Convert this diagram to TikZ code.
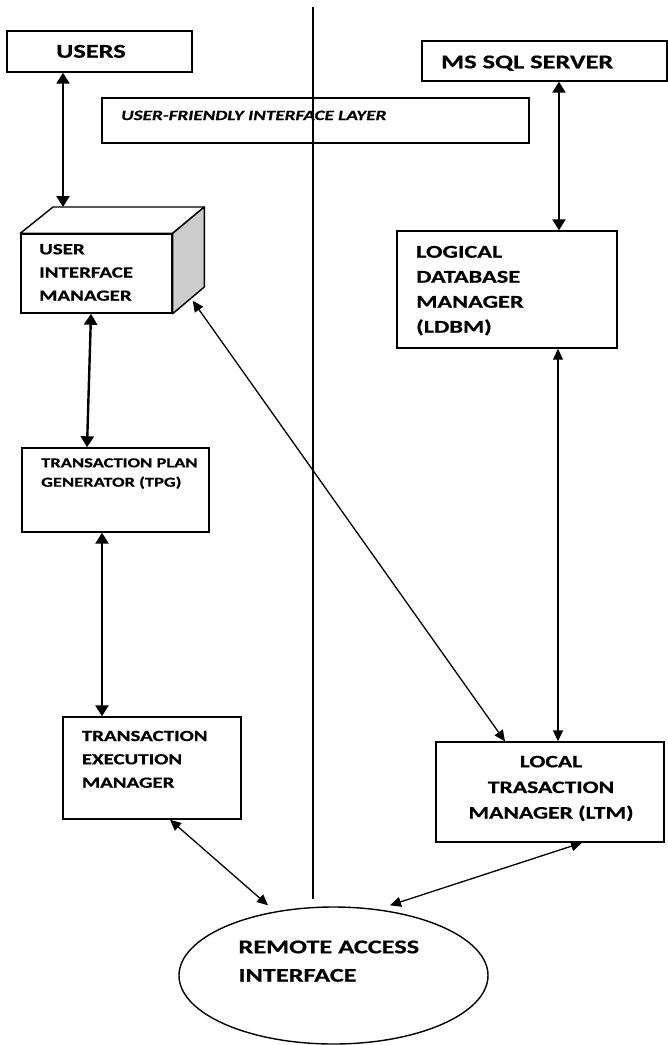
\documentclass[tikz,border=0pt]{standalone}
\usepackage{fontspec}
\setmainfont{Carlito}[FakeStretch=1.35, BoldFeatures={FakeBold=0.6}, BoldItalicFeatures={FakeBold=0.6}]
\usetikzlibrary{arrows.meta,shapes.geometric}
\tikzset{
  box/.style={draw, line width=1.4pt, inner sep=0pt, fill=white},
  tharr/.style={{Triangle[length=11pt,width=13pt]}-{Triangle[length=11pt,width=13pt]}, line width=2.4pt},
  tnarr/.style={{Triangle[length=11pt,width=10pt]}-{Triangle[length=11pt,width=10pt]}, line width=1.3pt},
  txt/.style={anchor=base west, inner sep=0pt},
  big/.style={font=\fontsize{19.5}{23}\selectfont\bfseries},
  med/.style={font=\fontsize{15.5}{19}\selectfont\bfseries},
  medl/.style={font=\fontsize{18}{21}\selectfont\bfseries},
  medm/.style={font=\fontsize{17.5}{21}\selectfont\bfseries},
  sml/.style={font=\fontsize{13.7}{16}\selectfont\bfseries},
  ital/.style={font=\fontsize{14.2}{17}\selectfont\bfseries\itshape},
}
\begin{document}
\begin{tikzpicture}[x=1pt,y=-1pt]
\useasboundingbox (0,0) rectangle (668,1045);
% boxes
\node[box, minimum width=185pt, minimum height=41pt] (users) at (99.5,51.5) {};
\node[box, minimum width=245pt, minimum height=40pt] (mssql) at (544.5,61) {};
\node[box, minimum width=427pt, minimum height=45pt] (ufil) at (315.5,120.5) {};
\node[box, minimum width=151pt, minimum height=79pt] (uim) at (96.5,273.5) {};
\node[box, minimum width=220pt, minimum height=117pt] (ldbm) at (507,289.5) {};
\node[box, minimum width=187pt, minimum height=84pt] (tpg) at (115.5,490) {};
\node[box, minimum width=178pt, minimum height=102pt] (tem) at (152,768) {};
\node[box, minimum width=228pt, minimum height=100pt] (ltm) at (550,792) {};
\node[draw, line width=1.4pt, ellipse, minimum width=309pt, minimum height=137pt, inner sep=0pt] (rai) at (333.5,975.5) {};
% cube faces
\coordinate (uimbtl) at (53,207);
\coordinate (uimbtr) at (204.3,207);
\coordinate (uimbbr) at (204.3,287);
\draw[line width=1.4pt, fill=white, line join=round] (uim.north west) -- (uimbtl) -- (uimbtr) -- (uim.north east) -- cycle;
\draw[line width=1.4pt, fill=black!20, line join=round] (uim.north east) -- (uimbtr) -- (uimbbr) -- (uim.south east) -- cycle;
% separator
\coordinate (vtop) at (313,7);
\coordinate (vbot) at (313,899);
\draw[line width=1.3pt] (vtop) -- (vbot);
% texts
\node[txt, big] (tusers) at (56,57.7) {USERS};
\node[txt, big] (tmssql) at (441,68.3) {MS SQL SERVER};
\node[txt, ital] (tufil) at (121,120) {USER-FRIENDLY INTERFACE LAYER};
\node[txt, med] (tuim1) at (39,254.3) {USER};
\node[txt, med] (tuim2) at (39,277.5) {INTERFACE};
\node[txt, med] (tuim3) at (39,300.7) {MANAGER};
\node[txt, medl] (tldbm1) at (416,257.7) {LOGICAL};
\node[txt, medl] (tldbm2) at (416,282.7) {DATABASE};
\node[txt, medl] (tldbm3) at (416,307.7) {MANAGER};
\node[txt, medl] (tldbm4) at (416,332.7) {(LDBM)};
\node[txt, sml] (ttpg1) at (41,467.3) {TRANSACTION PLAN};
\node[txt, sml] (ttpg2) at (41,486.7) {GENERATOR (TPG)};
\node[txt, med] (ttem1) at (81.7,741) {TRANSACTION};
\node[txt, med] (ttem2) at (81.7,764.3) {EXECUTION};
\node[txt, med] (ttem3) at (81.7,787.7) {MANAGER};
\node[anchor=base, inner sep=0pt, medm] (tltm1) at (551,767.3) {LOCAL};
\node[anchor=base, inner sep=0pt, medm] (tltm2) at (551,793) {TRASACTION};
\node[anchor=base, inner sep=0pt, medm] (tltm3) at (551,818.5) {MANAGER (LTM)};
\node[txt, big] (trai1) at (238.3,953.3) {REMOTE ACCESS};
\node[txt, big] (trai2) at (238.3,981.7) {INTERFACE};
% connectors
\draw[tharr] ([xshift=-36.5pt]users.south) -- ([xshift=10pt]uimbtl);
\draw[tharr] ([xshift=14.5pt]mssql.south) -- ([xshift=52pt]ldbm.north);
\draw[tharr] ([xshift=-5.5pt]uim.south) -- ([xshift=-28.5pt]tpg.north);
\draw[tharr] ([xshift=-13.5pt]tpg.south) -- ([xshift=-50pt]tem.north);
\draw[tnarr] ([xshift=51pt]ldbm.south) -- ([xshift=8pt]ltm.north);
\draw[tnarr] ([xshift=20pt,yshift=13pt]uim.south east) -- ([xshift=-45pt]ltm.north);
\draw[tnarr] ([xshift=18pt]tem.south) -- ([xshift=-65.5pt,yshift=1pt]rai.north);
\draw[tnarr] ([xshift=32pt]ltm.south) -- ([xshift=56.5pt,yshift=1pt]rai.north);
\end{tikzpicture}
\end{document}
